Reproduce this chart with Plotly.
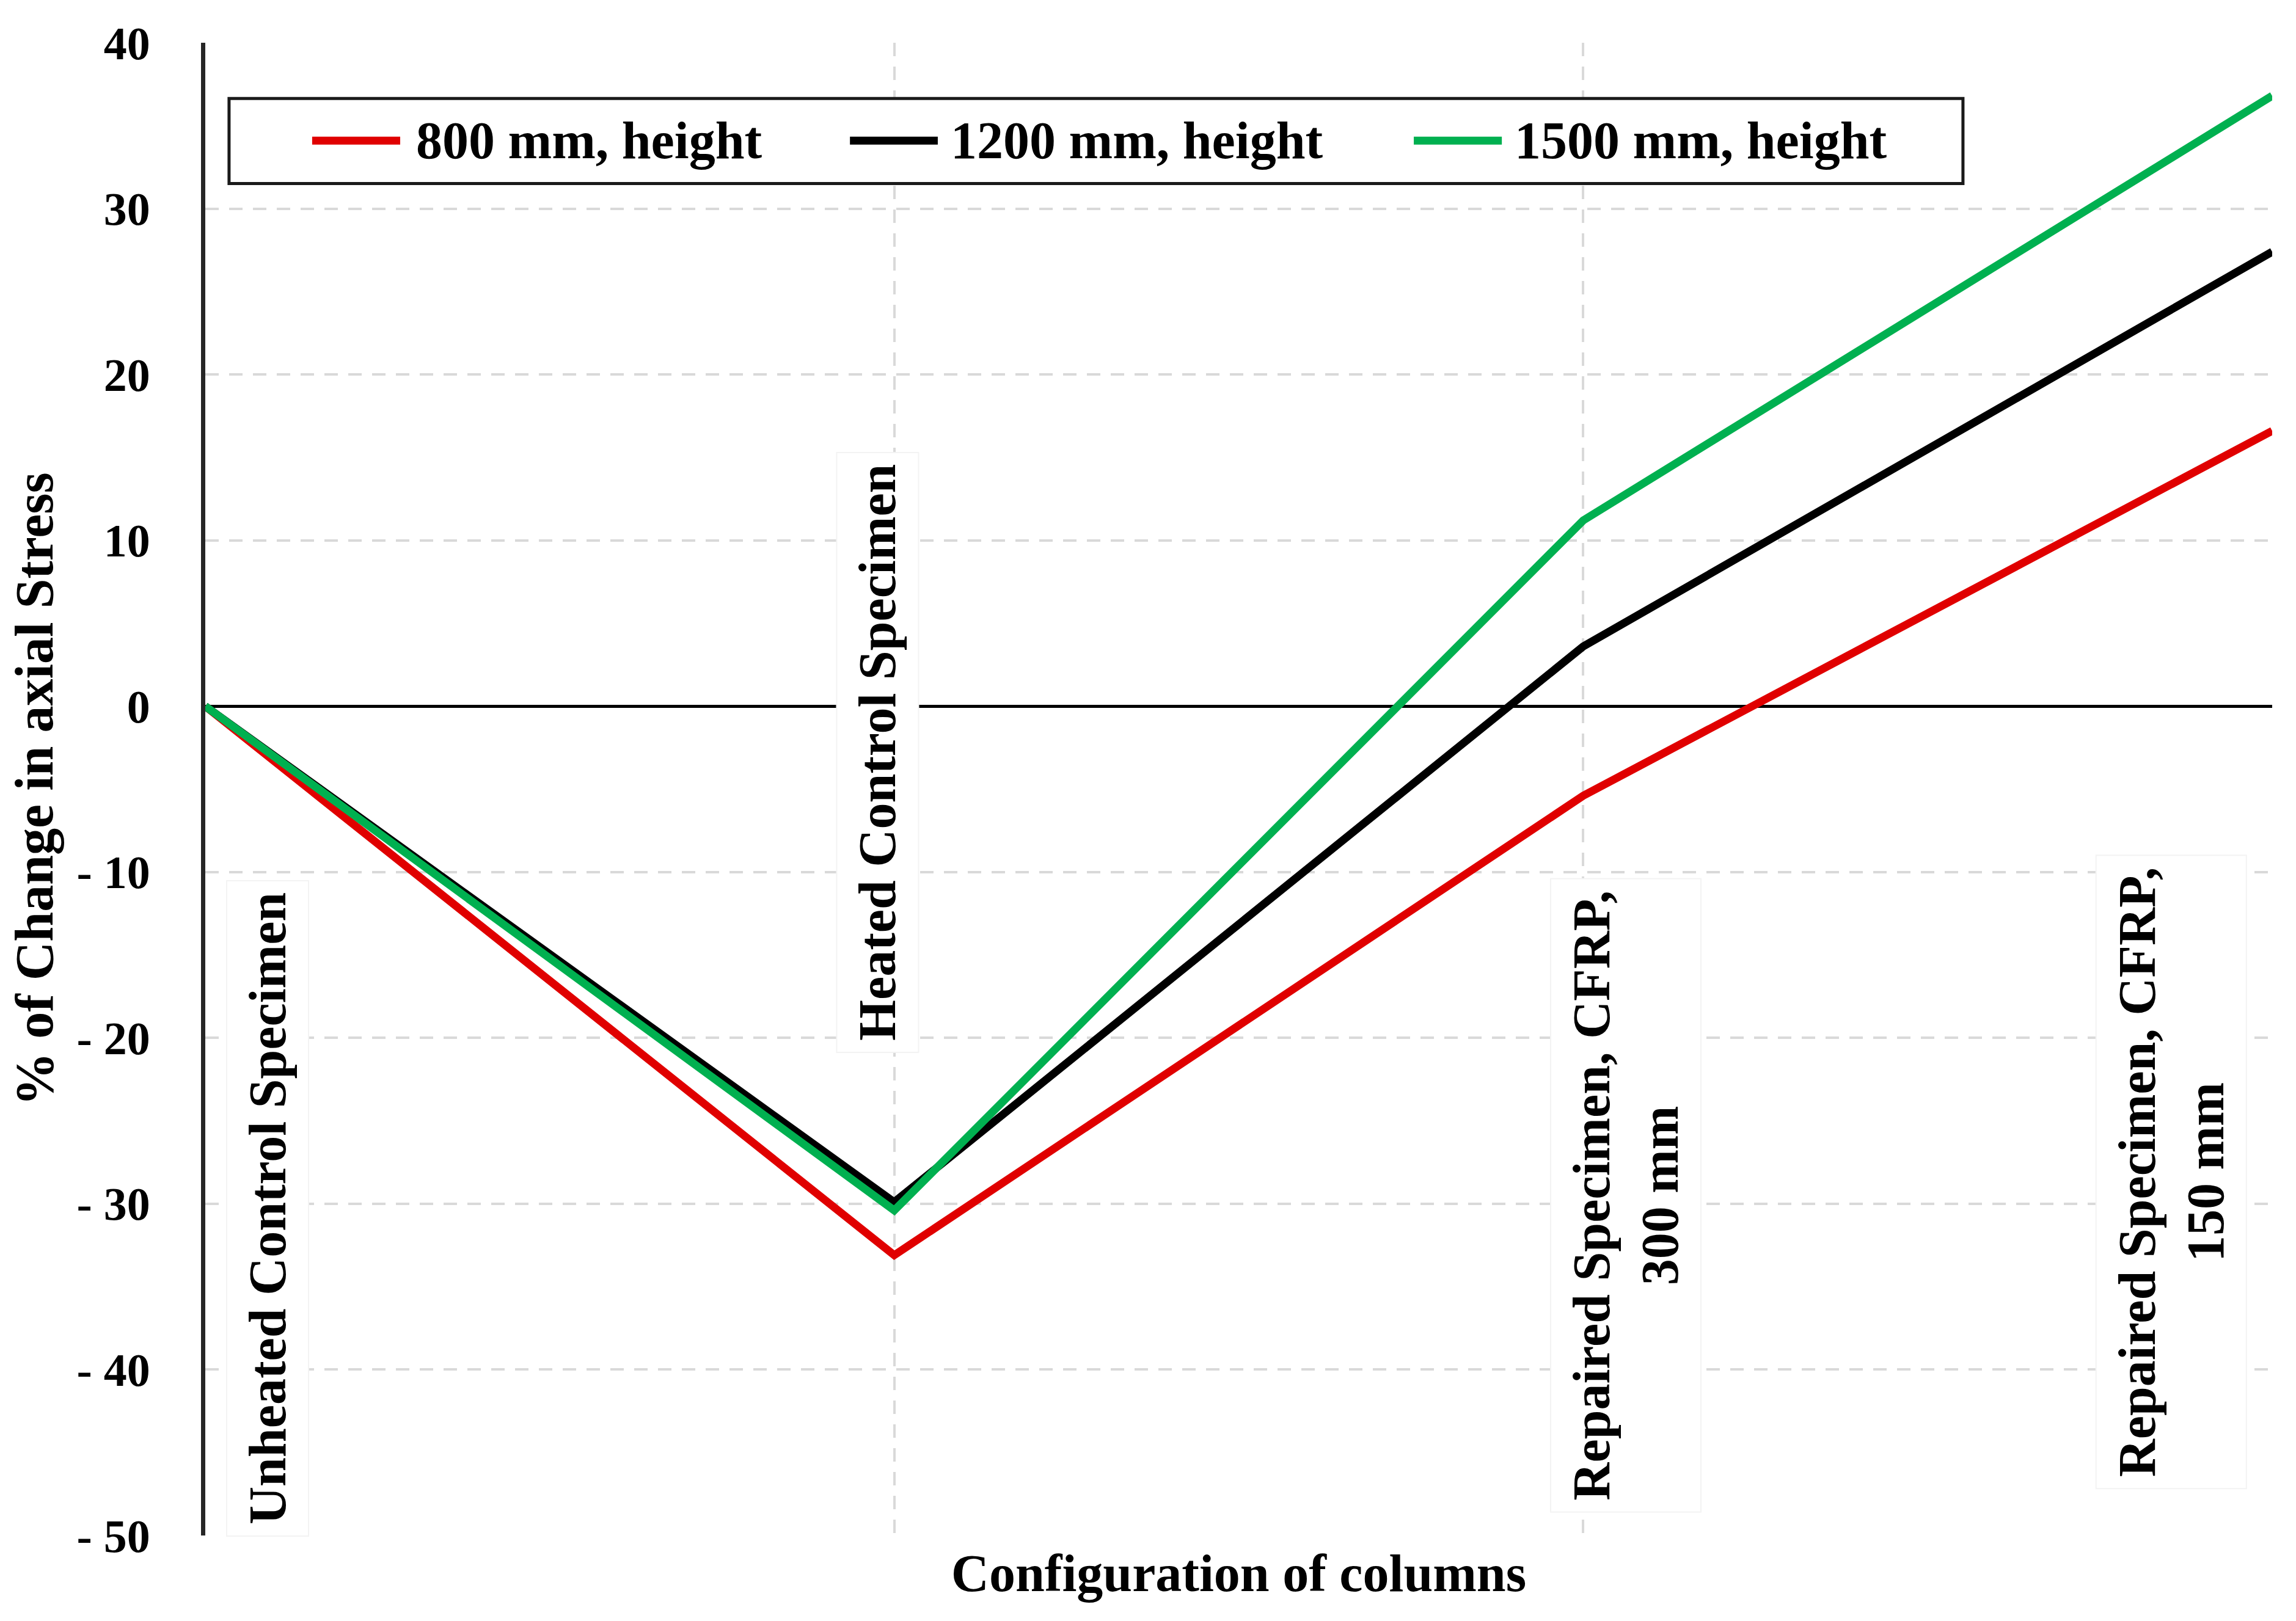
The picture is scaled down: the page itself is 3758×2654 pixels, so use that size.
import plotly.graph_objects as go

# ---- data ----
categories = [
    "Unheated Control Specimen",
    "Heated Control Specimen",
    "Repaired Specimen, CFRP, 300 mm",
    "Repaired Specimen, CFRP, 150 mm",
]
category_labels = [
    "Unheated Control Specimen",
    "Heated Control Specimen",
    "Repaired Specimen, CFRP,<br>300 mm",
    "Repaired Specimen, CFRP,<br>150 mm",
]
series_names = ["800 mm, height", "1200 mm, height", "1500 mm, height"]
h800 = [0.0, -33.1, -5.4, 16.6]
h1200 = [0.0, -29.9, 3.6, 27.4]
h1500 = [0.0, -30.4, 11.2, 36.8]
y_tickvals = [40, 30, 20, 10, 0, -10, -20, -30, -40, -50]
y_ticktext = ["40", "30", "20", "10", "0", "- 10", "- 20", "- 30", "- 40", "- 50"]

# ---- style ----
FONT = "Liberation Serif"
colors = ["#E00000", "#000000", "#00B050"]
series = [h800, h1200, h1500]
LINE_W = 13

fig = go.Figure()
for name, vals, col in zip(series_names, series, colors):
    fig.add_trace(go.Scatter(
        x=categories, y=vals, name=name, mode="lines",
        line=dict(color=col, width=LINE_W), showlegend=False,
    ))

# category labels drawn inside the plot (layout only: x shift px, y centre)
label_xshift = [102, -27, 70, -165]
label_ycenter = [-30.3, -2.8, -29.5, -28.1]
for cat, txt, dx, yc in zip(categories, category_labels, label_xshift, label_ycenter):
    fig.add_annotation(
        x=cat, y=yc, xref="x", yref="y", text=txt, textangle=-90,
        showarrow=False, xanchor="center", yanchor="middle", xshift=dx,
        align="center", bgcolor="white", bordercolor="#F3F3F3", borderwidth=2,
        borderpad=18,
        font=dict(family=FONT, size=86, color="black", weight="bold"),
    )

# legend box (paper coordinates)
leg_box = dict(x0=0.0115, x1=0.8504, y0=0.9057, y1=0.9627)
leg_y = 0.9344
leg_line_x = [(0.0517, 0.0943), (0.3119, 0.3544), (0.5847, 0.6273)]
leg_text_x = [0.1014, 0.3600, 0.6329]
fig.add_shape(type="rect", xref="paper", yref="paper", **leg_box,
              line=dict(color="#1A1A1A", width=5), fillcolor="white", layer="above")
for name, col, (lx0, lx1), tx in zip(series_names, colors, leg_line_x, leg_text_x):
    fig.add_shape(type="line", xref="paper", yref="paper", x0=lx0, x1=lx1,
                  y0=leg_y, y1=leg_y, line=dict(color=col, width=LINE_W), layer="above")
    fig.add_annotation(x=tx, y=leg_y, xref="paper", yref="paper", text=name,
                       showarrow=False, xanchor="left", yanchor="middle",
                       font=dict(family=FONT, size=86, color="black", weight="bold"))

grid = dict(gridcolor="#D9D9D9", gridwidth=4, griddash="22px,17px")

fig.update_layout(
    width=3758, height=2654,
    margin=dict(l=328, r=47, t=62, b=148),
    paper_bgcolor="white", plot_bgcolor="white",
    font=dict(family=FONT, size=86, color="black", weight="bold"),
    showlegend=False,
    xaxis=dict(
        type="category", range=[0, 3], showticklabels=False, ticks="",
        showline=False, zeroline=False, showgrid=True, **grid,
        title=dict(text="Configuration of columns", standoff=30,
                   font=dict(family=FONT, size=86, color="black", weight="bold")),
    ),
    yaxis=dict(
        range=[-50, 40], tickvals=y_tickvals, ticktext=y_ticktext,
        tickfont=dict(family=FONT, size=76, color="black", weight="bold"),
        ticks="", ticklabelstandoff=68,
        showline=True, linecolor="#262626", linewidth=7,
        zeroline=True, zerolinecolor="#000000", zerolinewidth=5,
        showgrid=True, **grid,
        title=dict(text="% of Change in axial Stress", standoff=20,
                   font=dict(family=FONT, size=88, color="black", weight="bold")),
    ),
)

fig.write_html("out.html")
